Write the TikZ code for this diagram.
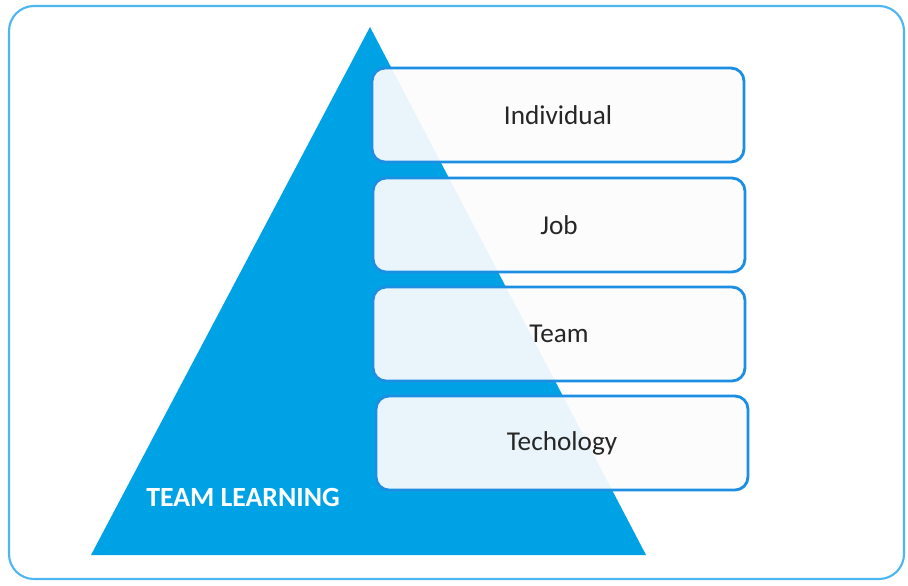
\documentclass[tikz,border=0pt]{standalone}
\usepackage{fontspec}
\setmainfont{Carlito}
\definecolor{pyr}{HTML}{00A2E6}
\definecolor{boxline}{HTML}{1C8FE2}
\definecolor{frameline}{HTML}{4DB5F0}
\definecolor{boxfill}{HTML}{FCFCFD}
\definecolor{txt}{HTML}{262626}
\begin{document}
\begin{tikzpicture}[x=0.02cm, y=-0.02cm]
\tikzset{ level/.style={draw=boxline, line width=1.6pt, rounded corners=0.26cm,
    fill=boxfill, fill opacity=0.93, text opacity=1, text=txt,
    minimum width=7.44cm, minimum height=1.88cm, font=\fontsize{15.5}{18}\selectfont},
  }
\useasboundingbox (0,0) rectangle (908,585);
\draw [frameline, line width=1.2pt, rounded corners=0.5cm] (9,6) rectangle (904,579);

\coordinate (A) at (370,27);
\coordinate (BL) at (91,555);
\coordinate (BR) at (646,555);
\fill [pyr] (A) -- (BL) -- (BR) -- cycle;

\node [level] (I) at (558,115) {Individual};
\node [level] (J) at (559,225) {Job};
\node [level] (T) at (559,334) {Team};
\node [level] (Y) at (562,443) {Techology};

\node [white, font=\fontsize{15.8}{18}\selectfont\bfseries] (TL) at (243,497) {TEAM LEARNING};

\end{tikzpicture}
\end{document}
